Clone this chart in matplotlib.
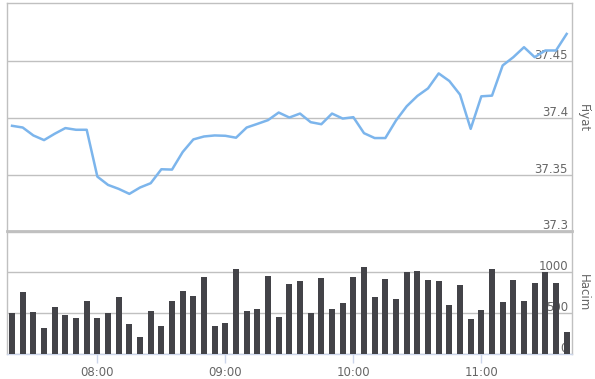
import matplotlib
matplotlib.use("Agg")
import matplotlib.pyplot as plt
import matplotlib.dates as mdates
import matplotlib.transforms as mtransforms
import pandas as pd

# 5-minute intervals, 07:20 -> 11:40
times = pd.date_range("2024-01-02 07:20", "2024-01-02 11:40", freq="5min")

price = [
    37.393, 37.3915, 37.3845, 37.3804, 37.386, 37.391, 37.3895, 37.3895,
    37.3482, 37.3409, 37.3374, 37.333, 37.3386, 37.3424, 37.3547, 37.3544,
    37.3699, 37.381, 37.3836, 37.3845, 37.3842, 37.3825, 37.3915, 37.3947,
    37.398, 37.4047, 37.4003, 37.4038, 37.3962, 37.3944, 37.4038, 37.3994,
    37.4006, 37.3865, 37.3822, 37.3822, 37.3977, 37.4102, 37.4193, 37.426,
    37.4392, 37.4325, 37.4205, 37.3903, 37.419, 37.4196, 37.4462, 37.4535,
    37.4623, 37.4535, 37.4594, 37.4594, 37.474,
]

volume = [
    500, 760, 516, 321, 573, 476, 439, 650, 439, 500, 695, 366, 207, 528,
    341, 650, 772, 707, 939, 341, 378, 1037, 528, 549, 951, 451, 854, 890,
    500, 927, 549, 622, 939, 1061, 695, 915, 671, 1000, 1012, 902, 890, 598,
    841, 427, 537, 1037, 634, 902, 646, 866, 1000, 866, 276,
]

price_ticks = [37.3, 37.35, 37.4, 37.45]
price_labels = ["37.3", "37.35", "37.4", "37.45"]
volume_ticks = [0, 500, 1000]
volume_labels = ["0", "500", "1000"]

W, H = 595, 379
GRID = "#c0c0c0"
TEXT = "#666666"
AXIS = "#ccd6eb"

fig = plt.figure(figsize=(W / 100, H / 100), dpi=100)
fig.patch.set_facecolor("white")

left, right = 6.7, 572.0


def box(x0, y0, x1, y1):
    return [x0 / W, 1 - y1 / H, (x1 - x0) / W, (y1 - y0) / H]


ax_p = fig.add_axes(box(left, 3.3, right, 231.3))
ax_v = fig.add_axes(box(left, 232.3, right, 354.3), sharex=ax_p)

xmin = pd.Timestamp("2024-01-02 07:17:30")
xmax = pd.Timestamp("2024-01-02 11:42:30")

# price line
ax_p.plot(times, price, color="#7cb5ec", lw=1.8, solid_joinstyle="round", zorder=3)
ax_p.set_ylim(37.3, 37.501)
ax_p.set_xlim(xmin, xmax)

# volume bars
ax_v.bar(times, volume, width=2.9 / 1440, color="#434348", zorder=3)
ax_v.set_ylim(0, 1490)

for ax, ticks, labels in ((ax_p, price_ticks, price_labels), (ax_v, volume_ticks, volume_labels)):
    ax.set_yticks(ticks)
    ax.tick_params(axis="y", left=False, right=False, labelleft=False, labelright=False)
    ax.grid(axis="y", color=GRID, lw=1, zorder=0)
    ax.set_axisbelow(True)
    for s in ("left", "right", "top"):
        ax.spines[s].set_color(GRID)
        ax.spines[s].set_linewidth(1)
    trans = mtransforms.blended_transform_factory(ax.transAxes, ax.transData)
    for t, lab in zip(ticks, labels):
        ax.annotate(lab, xy=(1, t), xycoords=trans, xytext=(-4, 2),
                    textcoords="offset pixels", ha="right", va="baseline",
                    fontsize=8.5, color=TEXT, zorder=2)

ax_p.spines["bottom"].set_color(GRID)
ax_p.spines["bottom"].set_linewidth(2)
ax_p.tick_params(axis="x", bottom=False, labelbottom=False)

ax_v.spines["bottom"].set_color(AXIS)
ax_v.spines["bottom"].set_linewidth(1)
ax_v.xaxis.set_major_locator(mdates.HourLocator())
ax_v.xaxis.set_major_formatter(mdates.DateFormatter("%H:%M"))
ax_v.tick_params(axis="x", colors=AXIS, length=6.5, width=1, pad=2,
                 labelcolor=TEXT, labelsize=8.5)

fig.text(583 / W, 1 - 118 / H, "Fiyat", rotation=270, ha="center", va="center",
         fontsize=8.5, color=TEXT)
fig.text(583 / W, 1 - 293 / H, "Hacim", rotation=270, ha="center", va="center",
         fontsize=8.5, color=TEXT)

fig.savefig("out.png", dpi=100)
